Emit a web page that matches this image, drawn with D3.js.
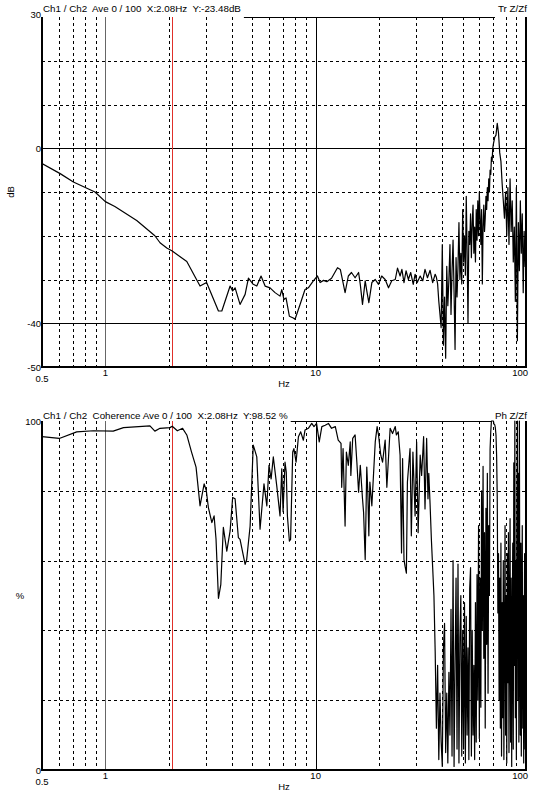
<!DOCTYPE html>
<html>
<head>
<meta charset="utf-8">
<script src="https://cdn.jsdelivr.net/npm/d3@7"></script>
<style>
body { margin: 0; background: #fff; }
text { font-family: "Liberation Sans", Arial, sans-serif; fill: #000; white-space: pre; }
</style>
</head>
<body>
<svg id="s"></svg>
<script>
// x axis (Hz, log)
var xDomain = [0.5, 100];
var xMinor = [0.6, 0.7, 0.8, 0.9, 2, 3, 4, 5, 6, 7, 8, 9, 20, 30, 40, 50, 60, 70, 80, 90];
var xMajor = [1, 10];
var xTickLabels = [0.5, 1, 10, 100];
var cursorHz = 2.08;

// top: transfer function magnitude (dB)
var magTicks = [30, 0, -40, -50];
var magSolid = [0, -40];
var magDashed = [20, 10, -10, -20, -30];
var magFreq = [0.5, 0.61, 0.705, 0.893, 1.0, 1.11, 1.41, 1.72, 1.82, 1.96,
  2.08, 2.44, 2.82, 3.03, 3.45, 3.58, 3.92, 4.03, 4.14, 4.37,
  4.62, 4.79, 5.05, 5.25, 5.5, 5.75, 6.07, 6.41, 6.77, 6.9,
  7.07, 7.23, 7.5, 7.83, 7.98, 8.43, 8.9, 9.23, 9.75, 10.2,
  10.5, 10.9, 11.3, 11.9, 12.7, 13.1, 13.8, 14.3, 14.8, 15.4,
  16.0, 16.3, 16.7, 17.2, 17.5, 17.9, 18.5, 19.2, 19.9, 20.6,
  21.4, 22.2, 23.0, 23.9, 24.5, 25.2, 25.7, 26.3, 26.9, 27.6,
  28.3, 29.1, 29.7, 30.4, 31.4, 32.3, 33.1, 34.0, 35.0, 36.0,
  37.0,
  37.5, 38, 38.5, 39, 39.5, 40, 40.5, 41, 41.5, 42,
  42.5, 43, 43.5, 44, 44.5, 45, 45.5, 46, 46.5, 47,
  47.5, 48, 48.5, 49, 49.5, 50, 50.5, 51, 51.5, 52,
  52.5, 53, 53.5, 54, 54.5, 55, 55.5, 56, 56.5, 57,
  57.5, 58, 58.5, 59, 59.5, 60, 60.5, 61, 61.5, 62,
  62.5, 63, 63.5, 64, 64.5, 65, 65.5, 66, 66.5, 67,
  67.5, 68, 68.5, 69, 69.5,
  70, 71, 72, 73, 74, 75, 76, 77, 78, 79,
  80, 81, 82, 83, 84, 85, 86, 87, 88, 89,
  90, 91, 92, 93, 94, 95, 96, 97, 98, 99, 100];
var magDb = [-3.5, -5.8, -7.7, -10.0, -12.2, -13.3, -16.5, -20.0, -21.6, -22.8,
  -23.5, -25.9, -31.5, -30.7, -37.2, -37.2, -31.5, -32.6, -31.9, -35.7,
  -33.4, -29.7, -31.1, -31.5, -29.2, -31.5, -31.9, -33.0, -33.8, -32.3,
  -34.6, -34.2, -38.4, -38.8, -39.1, -35.7, -32.3, -31.9, -30.3, -29.2,
  -30.7, -30.2, -30.5, -29.7, -27.3, -27.7, -33.0, -29.2, -28.4, -29.6,
  -28.4, -31.1, -35.7, -30.3, -32.6, -35.3, -30.7, -30.0, -31.1, -29.2,
  -30.0, -31.9, -30.3, -30.0, -27.4, -29.2, -27.7, -30.7, -28.0, -30.0,
  -28.4, -31.1, -28.8, -30.7, -29.2, -30.3, -27.7, -29.6, -27.9, -30.7,
  -28.8,
  -29.5, -31, -35, -38, -41, -22, -45, -34, -48, -27,
  -36, -30, -22, -38, -28, -21, -33, -46, -25, -34,
  -27, -17, -30, -24, -31, -14, -26, -20, -29, -11,
  -24, -40, -19, -22, -15, -25, -17, -13, -24, -18,
  -26, -14, -21, -12, -20, -10, -16, -22, -14, -31,
  -18, -13, -19, -16, -11, -14, -9, -12, -7, -10,
  -5, -6, -2, -3, 0,
  1, 2.5, 3, 5.7, 3.5, -1, -3, -8, -12, -16,
  -10, -20, -9, -22, -7, -19, -12, -26, -18, -35,
  -9, -44, -17, -28, -12, -24, -15, -33, -19, -27, -20];

// bottom: coherence (%)
var cohTicks = [100, 0];
var cohDashed = [80, 60, 40, 20];
var cohFreq = [0.5, 0.604, 0.731, 0.877, 1.09, 1.22, 1.63, 1.72, 1.82, 2.03,
  2.08, 2.2, 2.33, 2.44, 2.57, 2.7, 2.82, 2.95, 3.02, 3.09,
  3.21, 3.29, 3.36, 3.45, 3.54, 3.64, 3.78, 3.92, 4.03, 4.14,
  4.29, 4.37, 4.62, 4.7, 4.88, 5.05, 5.25, 5.44, 5.68, 5.86,
  6.0, 6.14, 6.29, 6.53, 6.77, 6.9, 7.0, 7.15, 7.25, 7.34,
  7.5, 7.6, 7.78, 7.88, 8.07, 8.28, 8.49, 8.74, 8.9, 9.23,
  9.58, 9.82, 10.1, 10.4, 10.7, 11.1, 11.5, 11.9, 12.4, 12.8,
  13.2, 13.3, 13.5, 13.8, 14.0, 14.3, 14.6, 14.7, 15.0, 15.4,
  15.7, 16.0, 16.3, 16.7, 16.9, 17.2, 17.5, 17.7, 17.9, 18.1,
  18.5, 19.2, 19.6, 19.9, 20.4, 20.8, 21.4, 21.8, 22.6, 23.2,
  23.9, 24.2, 24.7, 25.2, 25.6, 25.9, 26.3, 26.6, 27.0, 27.3,
  28.1, 28.5, 29.0, 29.7, 30.2, 30.7, 31.4, 31.9, 32.6, 33.1,
  33.7, 34.2,
  34.5, 35, 35.5, 36, 36.5, 37, 37.5, 38, 38.5, 39,
  39.5, 40, 40.5, 41, 41.5, 42, 42.5, 43, 43.5, 44,
  44.5, 45, 45.5, 46, 46.5, 47, 47.5, 48, 48.5, 49,
  49.5, 50, 50.5, 51, 51.5, 52, 52.5, 53, 53.5, 54,
  54.5, 55, 55.5, 56, 56.5, 57, 57.5, 58, 58.5, 59,
  59.5, 60, 60.5, 61, 61.5, 62, 62.5, 63, 63.5, 64,
  64.5, 65, 65.5, 66, 66.5, 67, 67.5, 68, 68.5, 69,
  69.5, 70, 70.5, 71, 71.5, 72, 72.5, 73, 73.5, 74,
  74.5, 75, 75.5, 76, 76.5, 77, 77.5, 78, 78.5, 79,
  79.5, 80, 80.5, 81, 81.5, 82, 82.5, 83, 83.5, 84,
  84.5, 85, 85.5, 86, 86.5, 87, 87.5, 88, 88.5, 89,
  89.5, 90, 90.5, 91, 91.5, 92, 92.5, 93, 93.5, 94,
  94.5, 95, 95.5, 96, 96.5, 97, 97.5, 98, 98.5, 99,
  99.5, 100];
var cohPct = [95.5, 95.0, 96.9, 97.2, 97.1, 98.1, 98.6, 97.1, 97.9, 98.1,
  98.5, 97.2, 97.9, 96.0, 91.1, 86.8, 75.7, 82.0, 80.1, 75.2,
  70.9, 72.8, 66.1, 49.2, 53.1, 69.5, 62.7, 68.5, 78.1, 77.7,
  66.6, 66.1, 58.9, 60.3, 69.9, 93.1, 89.7, 69.0, 82.0, 75.7,
  87.3, 83.4, 89.7, 81.5, 72.8, 86.3, 74, 88.2, 85.3, 72.8,
  65.6, 66.1, 91.1, 92.1, 88.2, 95.5, 96.9, 94.5, 97.4, 97.9,
  99.3, 98.4, 99.3, 94.0, 98.4, 98.8, 99.3, 97.9, 98.4, 94.5,
  93.6, 81.0, 92.1, 69.9, 91.1, 87.3, 94.0, 84.4, 95.0, 96.0,
  88.2, 79.6, 87.3, 77.7, 73.8, 60.3, 86.8, 79.6, 67.1, 82.5,
  75.7, 94.0, 98.4, 96.0, 90.2, 88.2, 94.5, 81.0, 97.9, 96.4,
  98.4, 96.0, 96.9, 90.2, 62.2, 89.2, 60.3, 58.4, 56.4, 82.5,
  92.1, 67.1, 91.1, 72.8, 94.0, 68.0, 90.2, 84.4, 95.5, 74.8,
  95.0, 77.7,
  85, 76, 66, 58, 50, 34, 12, 30, 3, 22,
  8, 1, 35, 42, 5, 22, 2, 28, 10, 46,
  4, 60, 1, 30, 55, 6, 59, 2, 38, 50,
  4, 40, 6, 48, 2, 44, 10, 35, 3, 52,
  58, 4, 40, 10, 30, 3, 48, 8, 56, 20,
  70, 9, 55, 18, 80, 40, 87, 32, 68, 12,
  75, 36, 85, 22, 70, 50, 92, 97, 100, 100,
  100, 100, 99, 99, 98, 96, 90, 78, 45, 62,
  20, 55, 12, 65, 4, 48, 15, 60, 3, 38,
  70, 10, 50, 2, 62, 25, 68, 5, 45, 72,
  8, 55, 1, 40, 65, 6, 88, 30, 100, 15,
  60, 3, 70, 100, 20, 85, 8, 100, 40, 10,
  65, 4, 45, 70, 12, 50, 2, 35, 62, 6,
  40, 15];

var W = 542, H = 794;
var L = 42, R = 526;

var svg = d3.select('#s').attr('width', W).attr('height', H);

var x = d3.scaleLog().domain(xDomain).range([L, R]);
function px(v) { return Math.round(x(v)) + 0.5; }

function panel(o) {
  var g = svg.append('g');
  var y = d3.scaleLinear().domain(o.domain).range([o.bottom, o.top]);
  function py(v) { return Math.round(y(v)) + 0.5; }

  // dashed vertical grid
  g.selectAll('line.vm').data(xMinor).enter().append('line')
    .attr('x1', px).attr('x2', px)
    .attr('y1', o.top).attr('y2', o.bottom)
    .attr('stroke', '#000').attr('stroke-width', 1)
    .attr('stroke-dasharray', '3,3');

  // dashed horizontal grid
  g.selectAll('line.hm').data(o.dashed).enter().append('line')
    .attr('x1', L).attr('x2', R)
    .attr('y1', py).attr('y2', py)
    .attr('stroke', '#000').attr('stroke-width', 1)
    .attr('stroke-dasharray', '3,3');

  // solid decade lines
  g.selectAll('line.vM').data(xMajor).enter().append('line')
    .attr('x1', px).attr('x2', px)
    .attr('y1', o.top).attr('y2', o.bottom)
    .attr('stroke', function(d){ return d == 1 ? '#666' : '#000'; })
    .attr('stroke-width', 1);

  g.selectAll('line.hM').data(o.solid).enter().append('line')
    .attr('x1', L).attr('x2', R)
    .attr('y1', py).attr('y2', py)
    .attr('stroke', '#000').attr('stroke-width', 1);

  // cursor
  g.append('line')
    .attr('x1', px(cursorHz)).attr('x2', px(cursorHz))
    .attr('y1', o.top).attr('y2', o.bottom)
    .attr('stroke', '#e0302a').attr('stroke-width', 1);

  // curve
  var clipId = 'clip' + o.id;
  svg.append('clipPath').attr('id', clipId).append('rect')
    .attr('x', L).attr('y', o.top - 1).attr('width', R - L).attr('height', o.bottom - o.top + 2);
  var pts = o.freq.map(function(f, i){ return [f, o.vals[i]]; });
  g.append('path')
    .datum(pts)
    .attr('clip-path', 'url(#' + clipId + ')')
    .attr('fill', 'none')
    .attr('stroke', '#000')
    .attr('stroke-width', 1.2)
    .attr('stroke-linejoin', 'round')
    .attr('d', d3.line().x(function(d){ return x(d[0]); }).y(function(d){ return y(d[1]); }));

  // titles
  var t1 = g.append('text')
    .attr('x', L + 1).attr('y', o.titleY)
    .attr('font-size', 9.8)
    .text(o.title);
  var t2 = g.append('text')
    .attr('x', R + 1).attr('y', o.titleY)
    .attr('text-anchor', 'end')
    .attr('font-size', 9.8)
    .text(o.right);
  var t1end = L + 1 + t1.node().getComputedTextLength() + 3;
  var t2start = R + 1 - t2.node().getComputedTextLength() - 3;

  // frame
  g.append('line').attr('x1', t1end).attr('x2', t2start)
    .attr('y1', Math.round(o.top) + 0.5).attr('y2', Math.round(o.top) + 0.5)
    .attr('stroke', '#000').attr('stroke-width', 1);
  g.append('line').attr('x1', L).attr('x2', L)
    .attr('y1', o.top).attr('y2', o.bottom + 1)
    .attr('stroke', '#000').attr('stroke-width', 2);
  g.append('line').attr('x1', R).attr('x2', R)
    .attr('y1', o.top).attr('y2', o.bottom + 1)
    .attr('stroke', '#000').attr('stroke-width', 2);
  g.append('line').attr('x1', L - 1).attr('x2', R + 1)
    .attr('y1', o.bottom).attr('y2', o.bottom)
    .attr('stroke', '#000').attr('stroke-width', 2);

  // y tick labels
  g.selectAll('text.yt').data(o.ticks).enter().append('text')
    .attr('x', L - 1)
    .attr('y', function(d, i){ return y(d) + 3.5 + (i == 0 ? o.firstTickShift : 0); })
    .attr('text-anchor', 'end')
    .attr('font-size', 9.5)
    .text(function(d){ return d; });

  // x tick labels
  g.selectAll('text.xt').data(xTickLabels).enter().append('text')
    .attr('x', function(d){ return d == 100 ? R + 2 : x(d); })
    .attr('y', function(d){ return o.bottom + (d == 0.5 ? 15 : 9); })
    .attr('text-anchor', function(d){ return d == 100 ? 'end' : 'middle'; })
    .attr('font-size', 9.5)
    .text(function(d){ return d; });

  g.append('text')
    .attr('x', (L + R) / 2).attr('y', o.bottom + 20)
    .attr('text-anchor', 'middle')
    .attr('font-size', 9.5)
    .text('Hz');

  // y axis name
  var yl = g.append('text')
    .attr('text-anchor', 'middle')
    .attr('font-size', 9.5)
    .text(o.yName);
  if (o.rotate) {
    yl.attr('transform', 'translate(' + o.yNameX + ',' + ((o.top + o.bottom) / 2) + ') rotate(-90)');
  } else {
    yl.attr('x', o.yNameX).attr('y', (o.top + o.bottom) / 2 + 3);
  }
}

panel({
  id: 'mag',
  domain: [-50, 30],
  top: 17, bottom: 367,
  dashed: magDashed, solid: magSolid, ticks: magTicks,
  firstTickShift: -3,
  freq: magFreq, vals: magDb,
  title: 'Ch1 / Ch2  Ave 0 / 100  X:2.08Hz  Y:-23.48dB',
  right: 'Tr Z/Zf',
  titleY: 12,
  yName: 'dB', rotate: true, yNameX: 14
});

panel({
  id: 'coh',
  domain: [0, 100],
  top: 421, bottom: 770,
  dashed: cohDashed, solid: [], ticks: cohTicks,
  firstTickShift: 0,
  freq: cohFreq, vals: cohPct,
  title: 'Ch1 / Ch2  Coherence Ave 0 / 100  X:2.08Hz  Y:98.52 %',
  right: 'Ph Z/Zf',
  titleY: 419,
  yName: '%', rotate: false, yNameX: 20
});
</script>
</body>
</html>
